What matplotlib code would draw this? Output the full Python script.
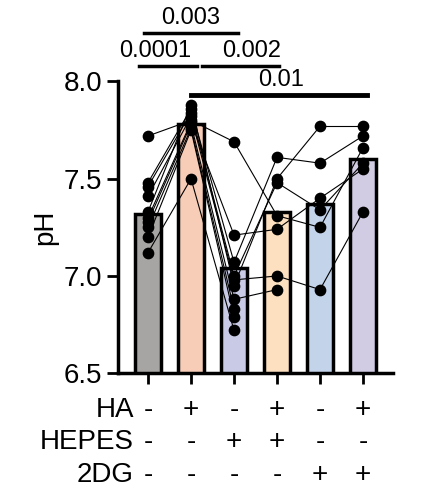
import matplotlib
matplotlib.use("Agg")
import matplotlib.pyplot as plt
plt.rcParams['font.family'] = ['Liberation Sans', 'DejaVu Sans']

groups = ["g1", "g2", "g3", "g4", "g5", "g6"]
bar_means = [7.32, 7.78, 7.04, 7.33, 7.37, 7.60]
colors = ["#a7a5a3", "#f7cdb8", "#c9cbe6", "#fde0c0", "#c3d3ea", "#d2cbe4"]
pts = [
    [7.72, 7.48, 7.46, 7.41, 7.33, 7.30, 7.28, 7.25, 7.20, 7.12],
    [7.80, 7.86, 7.84, 7.82, 7.88, 7.79, 7.78, 7.76, 7.75, 7.50],
    [7.69, 7.07, 7.00, 6.98, 6.95, 7.21, 6.88, 6.83, 6.79, 6.72],
    [7.31, 7.61, 7.48, 7.00, 7.50, 7.24, 6.93],
    [7.25, 7.58, 7.34, 6.93, 7.77, 7.40],
    [7.66, 7.72, 7.58, 7.33, 7.77, 7.55],
]
HA = ["-", "+", "-", "+", "-", "+"]
HEPES = ["-", "-", "+", "+", "-", "-"]
DG = ["-", "-", "-", "-", "+", "+"]
# (line start, line end, line y, text x, text label)
sig = [(-0.1, 2.1, 8.25, 1.0, "0.003"), (-0.2, 1.14, 8.08, 0.16, "0.0001"),
       (1.26, 3.05, 8.08, 2.4, "0.002"), (1.0, 5.1, 7.93, 3.1, "0.01")]

fig = plt.figure(figsize=(4.32, 5.03), dpi=100)
ax = fig.add_axes([0.273, 0.258, 0.637, 0.58])
x = list(range(len(groups)))
ax.bar(x, bar_means, width=0.62, bottom=0, color=colors, edgecolor="black", linewidth=2.5, zorder=1)
for g in range(len(pts) - 1):
    n = min(len(pts[g]), len(pts[g + 1]))
    for i in range(n):
        ax.plot([g, g + 1], [pts[g][i], pts[g + 1][i]], color="black", lw=0.8, zorder=2)
for g, vals in enumerate(pts):
    ax.scatter([g] * len(vals), vals, s=55, color="black", zorder=3)
ax.set_ylim(6.5, 8.0)
ax.set_xlim(-0.7, 5.7)
ax.set_yticks([6.5, 7.0, 7.5, 8.0])
ax.set_yticklabels(["6.5", "7.0", "7.5", "8.0"], fontsize=20)
ax.set_xticks(x)
ax.set_xticklabels([])
ax.tick_params(axis="both", width=2, length=8)
ax.set_ylabel("pH", fontsize=20)
for s in ["top", "right"]:
    ax.spines[s].set_visible(False)
for s in ["left", "bottom"]:
    ax.spines[s].set_linewidth(2.5)

for a, b, y, tx, t in sig:
    lw = 3.5 if t == "0.01" else 2.5
    ax.plot([a, b], [y, y], color="black", lw=lw, clip_on=False)
    ax.text(tx, y + 0.02, t, ha="center", va="bottom", fontsize=17)

rows = [("HA", HA, 410), ("HEPES", HEPES, 442), ("2DG", DG, 475)]
for name, signs, ypx in rows:
    yf = 1 - ypx / 503
    fig.text(134 / 432, yf, name, ha="right", va="center", fontsize=20)
    for i, s in enumerate(signs):
        xd = ax.transData.transform((i, 0))[0]
        xf = fig.transFigure.inverted().transform((xd, 0))[0]
        fig.text(xf, yf, s, ha="center", va="center", fontsize=20)

fig.savefig("out.png", dpi=100)
